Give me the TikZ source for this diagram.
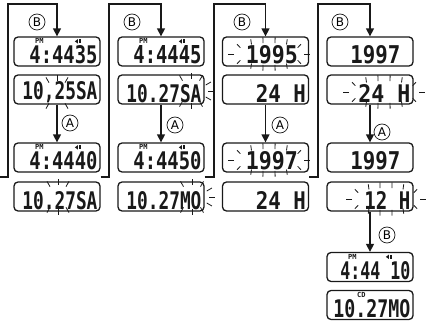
\documentclass[tikz,border=0pt]{standalone}
\usepackage{fontspec}
\usepackage{graphicx}
\usetikzlibrary{arrows.meta,calc}
\newfontfamily\lcdfont{DejaVu Sans Mono}
\newfontfamily\keyfont{DejaVu Sans}
\definecolor{encre}{RGB}{25,25,25}
\newcommand{\lcd}[2]{\resizebox{#1pt}{18pt}{\lcdfont\bfseries #2}}
% radial marks round a short blinking field
\newcommand{\blinkmarks}[4]{%
  \foreach \a in {#4}
  \draw[blinkline] ($(#1)+({#2*cos(\a)},{#3*sin(\a)})$)--($(#1)+({(#2+6)*cos(\a)},{(#3+6)*sin(\a)})$);}
% marks round a wide blinking field (upright ticks on top and bottom)
\newcommand{\blinkrow}[4]{%
  \foreach \a in {#4}
  \draw[blinkline] ($(#1)+({#2*cos(\a)},{#3*sin(\a)})$)--++({6*cos(\a)*cos(\a)*cos(\a)},{6*sin(\a)});}
\newcommand{\spkicon}[1]{%
  \fill[encre] ($(#1)+(-2.5,0)$) -- ++(3,-2.2) -- ++(0,4.4) -- cycle;
  \draw[encre,line width=0.7pt] ($(#1)+(1.6,-2)$) -- ++(0,4);
  \draw[encre,line width=0.7pt] ($(#1)+(3.0,-2)$) -- ++(0,4);}
\begin{document}
\begin{tikzpicture}[x=1pt,y=-1pt,
  disp/.style={draw=encre,line width=1.3pt,rounded corners=4pt,minimum width=86pt,minimum height=29pt,inner sep=0pt},
  digits/.style={anchor=south east,inner sep=0pt,text=encre},
  tag/.style={inner sep=0pt,font=\lcdfont\bfseries\fontsize{7}{7}\selectfont,text=encre},
  key/.style={circle,draw=encre,line width=0.7pt,minimum size=16pt,inner sep=0pt,font=\keyfont\fontsize{12}{12}\selectfont},
  link/.style={draw=encre,line width=1.4pt},
  push/.style={link,-{Triangle[width=8pt,length=8pt]}},
  blinkline/.style={encre,line width=0.8pt}]
\useasboundingbox (0,0) rectangle (426,323);

% column 1
\node[disp] (d11) at (57,51.5) {};
\node[disp] (d12) at (57,89.5) {};
\node[disp] (d13) at (57,157.5) {};
\node[disp] (d14) at (57,196.5) {};
\node[tag] (pm11) at ($(d11.north west)+(26,5)$) {PM};
\spkicon{$(d11.north west)+(64,5)$}
\node[digits] (t11) at ($(d11.south east)+(-3,-2.5)$) {\lcd{68}{4:4435}};
\node[digits] (t12) at ($(d12.south east)+(-3,-2)$) {\lcd{75}{10,25SA}};
\node[tag] (pm13) at ($(d13.north west)+(26,5)$) {PM};
\spkicon{$(d13.north west)+(64,5)$}
\node[digits] (t13) at ($(d13.south east)+(-3,-2.5)$) {\lcd{68}{4:4440}};
\node[digits] (t14) at ($(d14.south east)+(-3,-2)$) {\lcd{75}{10.27SA}};

% column 2
\node[disp] (d21) at (161,51.5) {};
\node[disp] (d22) at (161,89.5) {};
\node[disp] (d23) at (161,157.5) {};
\node[disp] (d24) at (161,196.5) {};
\node[tag] (pm21) at ($(d21.north west)+(26,5)$) {PM};
\spkicon{$(d21.north west)+(64,5)$}
\node[digits] (t21) at ($(d21.south east)+(-3,-2.5)$) {\lcd{68}{4:4445}};
\node[digits] (t22) at ($(d22.south east)+(-3,-2)$) {\lcd{75}{10.27SA}};
\node[tag] (pm23) at ($(d23.north west)+(26,5)$) {PM};
\spkicon{$(d23.north west)+(64,5)$}
\node[digits] (t23) at ($(d23.south east)+(-3,-2.5)$) {\lcd{68}{4:4450}};
\node[digits] (t24) at ($(d24.south east)+(-3,-2)$) {\lcd{75}{10.27MO}};

% column 3
\node[disp] (d31) at (265.5,51.5) {};
\node[disp] (d32) at (265.5,89.5) {};
\node[disp] (d33) at (265.5,157.5) {};
\node[disp] (d34) at (265.5,196.5) {};
\node[digits] (t31) at ($(d31.south east)+(-11,-2.5)$) {\lcd{52}{1995}};
\node[digits] (t32) at ($(d32.south east)+(-3,-2)$) {\lcd{50}{24 H}};
\node[digits] (t33) at ($(d33.south east)+(-11,-2.5)$) {\lcd{52}{1997}};
\node[digits] (t34) at ($(d34.south east)+(-3,-2)$) {\lcd{50}{24 H}};

% column 4
\node[disp] (d41) at (370,51.5) {};
\node[disp] (d42) at (370,89.5) {};
\node[disp] (d43) at (370,157.5) {};
\node[disp] (d44) at (370,196.5) {};
\node[disp] (d45) at (370,267) {};
\node[disp] (d46) at (370,305) {};
\node[digits] (t41) at ($(d41.south east)+(-13,-2.5)$) {\lcd{50}{1997}};
\node[digits] (t42) at ($(d42.south east)+(-3,-2)$) {\lcd{52}{24 H}};
\node[digits] (t43) at ($(d43.south east)+(-13,-2.5)$) {\lcd{50}{1997}};
\node[digits] (t44) at ($(d44.south east)+(-3,-2)$) {\lcd{46}{12 H}};
\node[tag] (pm45) at ($(d45.north west)+(26,5)$) {PM};
\spkicon{$(d45.north west)+(62,5)$}
\node[digits] (t45) at ($(d45.south east)+(-3,-2.5)$) {\lcd{70}{4:44 10}};
\node[tag] (cd46) at ($(d46.north west)+(35,5)$) {CD};
\node[digits] (t46) at ($(d46.south east)+(-3,-2)$) {\lcd{77}{10.27MO}};

% blinking marks
\coordinate (f12) at (57,93);
\coordinate (f14) at (58,197);
\coordinate (f22) at (191,91);
\coordinate (f24) at (192,197);
\coordinate (f31) at (269,54);
\coordinate (f33) at (269,160);
\coordinate (f42) at (384,92);
\coordinate (f44) at (386,199);
\blinkmarks{f12}{16}{12}{60,90,120,240,270,300}
\blinkmarks{f14}{16}{12}{60,90,120,240,270,300}
\blinkmarks{f22}{17}{12}{-120,-90,-60,-30,0,30,60,90,120}
\blinkmarks{f24}{17}{12}{-120,-90,-60,-30,0,30,60,90,120}
\blinkrow{f31}{35}{11}{0,35,60,80,100,120,145,180,215,240,260,280,300,325}
\blinkrow{f33}{35}{11}{0,35,60,80,100,120,145,180,215,240,260,280,300,325}
\blinkrow{f42}{35}{11}{0,35,60,80,100,120,145,180,215,240,260,280,300,325}
\blinkrow{f44}{34}{11}{0,35,60,80,100,120,145,180,215,240,260,280,300,325}

% button B loops
\coordinate (o0) at (0,177);
\coordinate (t1) at (8,4);
\coordinate (o1) at ($(d13.south east)!0.5!(d14.north east)$);
\coordinate (t2) at (109,4);
\coordinate (o2) at ($(d23.south east)!0.5!(d24.north east)$);
\coordinate (t3) at (214,4);
\coordinate (o3) at ($(d33.south east)!0.5!(d34.north east)$);
\coordinate (t4) at (318,4);
\draw[push] (o0) -| (t1) -| (d11.north);
\draw[push] (o1) -| (t2) -| (d21.north);
\draw[push] (o2) -| (t3) -| (d31.north);
\draw[push] (o3) -| (t4) -| (d41.north);
\draw[push] (d44.south) -- (d45.north);
\node[key] (b1) at (37,22) {B};
\node[key] (b2) at (132,22) {B};
\node[key] (b3) at (242,22) {B};
\node[key] (b4) at (340,22) {B};
\node[key] (b5) at (387,235) {B};

% button A steps
\draw[push] (d12.south) -- (d13.north);
\draw[push] (d22.south) -- (d23.north);
\draw[push] (d32.south) -- (d33.north);
\draw[push] (d42.south) -- (d43.north);
\node[key] (a1) at (70,123) {A};
\node[key] (a2) at (175,125) {A};
\node[key] (a3) at (280,125) {A};
\node[key] (a4) at (382,132) {A};
\end{tikzpicture}
\end{document}
